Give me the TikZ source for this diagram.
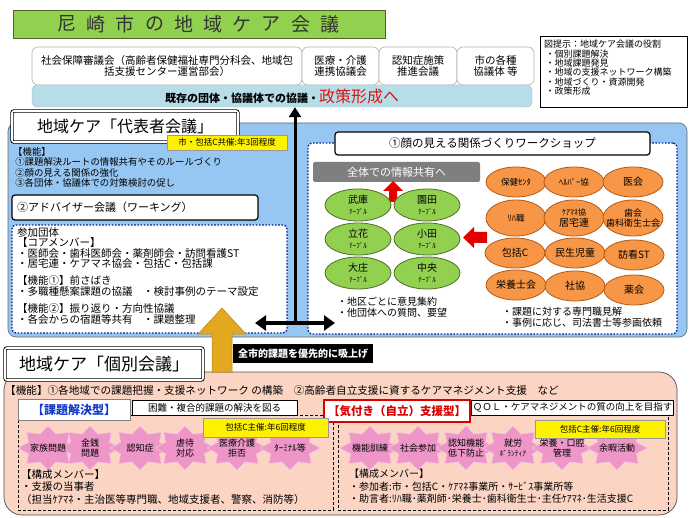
\documentclass[tikz,border=0pt]{standalone}
\usepackage{fontspec}
\setmainfont{Noto Sans CJK JP}
\usetikzlibrary{shapes.geometric, arrows.meta}
\definecolor{titlegreen}{RGB}{146,208,80}
\definecolor{titleline}{RGB}{79,98,40}
\definecolor{barblue}{RGB}{183,222,232}
\definecolor{panelblue}{RGB}{150,198,242}
\definecolor{navydot}{RGB}{0,32,160}
\definecolor{limegreen}{RGB}{146,208,80}
\definecolor{greenline}{RGB}{80,110,40}
\definecolor{orangefill}{RGB}{247,150,70}
\definecolor{orangeline}{RGB}{180,90,20}
\definecolor{pinkpanel}{RGB}{251,212,196}
\definecolor{starpink}{RGB}{238,150,200}
\definecolor{arrowgold}{RGB}{228,168,30}
\definecolor{policyred}{RGB}{220,20,20}
\definecolor{typeblue}{RGB}{20,60,200}
\definecolor{shadegray}{RGB}{127,127,127}
\tikzset{
	every node/.style={inner sep=1pt,font=\fontsize{10}{11}\selectfont},
	title-char/.style={text=black!80,font=\fontsize{19}{19}\selectfont},
	top-box/.style={shape=rectangle,rounded corners=6pt,draw=gray!60,fill=white,line width=0.6pt,align=center,font=\fontsize{10.5}{11.5}\selectfont},
	title-box/.style={shape=rectangle,rounded corners=2pt,draw=black,line width=0.9pt,double=white,double distance=1.6pt,fill=white},
	plain-box/.style={shape=rectangle,draw=black,line width=0.6pt,fill=white},
	yellow-tag/.style={shape=rectangle,draw=gray!80,fill=yellow,line width=0.5pt,font=\fontsize{8.5}{9}\selectfont},
	dot-box/.style={shape=rectangle,rounded corners=4pt,draw=navydot,dash pattern=on 1.6pt off 1.6pt,line width=1.4pt,fill=white},
	dash-box/.style={shape=rectangle,draw=black,dash pattern=on 3pt off 2pt,line width=0.8pt},
	green-node/.style={shape=ellipse,draw=greenline,fill=limegreen,line width=0.8pt,minimum width=66pt,minimum height=32pt,inner sep=0pt,align=center},
	orange-node/.style={shape=ellipse,draw=orangeline,fill=orangefill,line width=0.8pt,minimum width=60pt,minimum height=30pt,inner sep=0pt},
	cell-text/.style={align=center,inner sep=0pt},
	burst-fill/.style={fill=starpink,draw=starpink!60!white,line width=0.6pt},
	star-text/.style={align=center,inner sep=0pt,font=\fontsize{9}{10}\selectfont},
	list-text/.style={anchor=north west,align=left},
}
\tikzstyle{arrow} = [line width=3pt,-{Triangle[width=12pt,length=10pt]}]
\tikzstyle{both-arrow} = [line width=3.5pt,{Triangle[width=15pt,length=11pt]}-{Triangle[width=15pt,length=11pt]}]
\begin{document}
\begin{tikzpicture}[x=1pt,y=-1pt]
	\useasboundingbox (0,0) rectangle (690,518);

	\node[shape=rectangle,draw=titleline,fill=titlegreen,line width=0.8pt,minimum width=372pt,minimum height=28pt] (title) at (199,24) {};
	\foreach \ch [count=\i from 0] in {尼,崎,市,の,地,域,ケ,ア,会,議}
		\node[title-char] (t\i) at (67+29.2*\i,24) {\ch};

	\node[top-box,minimum width=270pt,minimum height=38pt] (shakai) at (167,66) {社会保障審議会（高齢者保健福祉専門分科会、地域包\\括支援センター運営部会）};
	\node[top-box,minimum width=77pt,minimum height=38pt] (iryo) at (340.5,66) {医療・介護\\連携協議会};
	\node[top-box,minimum width=78pt,minimum height=38pt] (ninchi) at (418,66) {認知症施策\\推進会議};
	\node[top-box,minimum width=77pt,minimum height=38pt] (kakushu) at (495.5,66) {市の各種\\協議体 等};
	\node[shape=rectangle,rounded corners=5pt,draw=gray!60,fill=barblue,minimum width=500pt,minimum height=22pt] (kizon) at (282,96) {{\fontsize{11}{12}\selectfont\bfseries 既存の団体・協議体での協議・}{\color{policyred}\fontsize{16}{16}\selectfont 政策形成へ}};

	\node[plain-box,minimum width=147pt,minimum height=71pt] (role-box) at (613.5,71.5) {};
	\node[list-text,font=\fontsize{9}{7.8}\selectfont] (role-text) at (543,39) {図提示：地域ケア会議の役割\\\,・個別課題解決\\\,・地域課題発見\\\,・地域の支援ネットワーク構築\\\,・地域づくり・資源開発\\\,・政策形成};

	\node[shape=rectangle,rounded corners=8pt,draw=black!60,fill=panelblue,line width=0.6pt,minimum width=679pt,minimum height=214pt] (daihyo-panel) at (347.5,230) {};
	\node[title-box,minimum width=226pt,minimum height=31pt,font=\fontsize{16}{16}\selectfont] (daihyo) at (125,126.5) {地域ケア「代表者会議」};
	\node[yellow-tag,minimum width=120pt,minimum height=15pt] (tag-kyosai) at (227,142.5) {市・包括C共催:年3回程度};
	\node[list-text,font=\fontsize{9.4}{10.2}\selectfont] (kinou) at (12,146.5) {【機能】\\\ ①課題解決ルートの情報共有やそのルールづくり\\\ ②顔の見える関係の強化\\\ ③各団体・協議体での対策検討の促し};

	\node[shape=rectangle,rounded corners=3pt,draw=black,fill=white,line width=1.2pt,minimum width=246pt,minimum height=25pt,text width=236pt,align=left,font=\fontsize{11}{12}\selectfont] (adviser) at (135,207.5) {②アドバイザー会議（ワーキング）};
	\node[dot-box,minimum width=275pt,minimum height=108pt] (adv-body) at (149.5,279) {};
	\node[list-text,font=\fontsize{10.5}{10.6}\selectfont] (sanka) at (16,226) {参加団体\\【コアメンバー】\\・医師会・歯科医師会・薬剤師会・訪問看護ST\\・居宅連・ケアマネ協会・包括C・包括課\\[6.5pt]【機能①】前さばき\\・多職種懸案課題の協議　・検討事例のテーマ設定\\[6.5pt]【機能②】振り返り・方向性協議\\・各会からの宿題等共有　・課題整理};

	\node[dot-box,minimum width=369pt,minimum height=191pt] (ws-body) at (492.5,238.5) {};
	\node[shape=rectangle,rounded corners=3pt,draw=black,fill=white,line width=1.2pt,minimum width=315pt,minimum height=23pt,font=\fontsize{11.5}{12}\selectfont] (ws-title) at (492.5,143.5) {①顔の見える関係づくりワークショップ};
	\node[shape=rectangle,rounded corners=2pt,fill=shadegray,text=white,minimum width=167pt,minimum height=20pt,font=\fontsize{11}{12}\selectfont] (share) at (396.5,172) {全体での情報共有へ};
	\fill[red!90!black] (389,202) -- (397,202) -- (397,191) -- (403,191) -- (393,181) -- (383,191) -- (389,191) -- cycle;
	\fill[red!90!black] (487,232) -- (474,232) -- (474,227) -- (463,237.5) -- (474,248) -- (474,243) -- (487,243) -- cycle;

	\node[green-node] (g-muko) at (358,205) {武庫\\{\fontsize{7}{8}\selectfont ﾃｰﾌﾞﾙ}};
	\node[green-node] (g-sonoda) at (427,205) {園田\\{\fontsize{7}{8}\selectfont ﾃｰﾌﾞﾙ}};
	\node[green-node] (g-tachibana) at (358,239) {立花\\{\fontsize{7}{8}\selectfont ﾃｰﾌﾞﾙ}};
	\node[green-node] (g-oda) at (427,239) {小田\\{\fontsize{7}{8}\selectfont ﾃｰﾌﾞﾙ}};
	\node[green-node] (g-daisho) at (358,273) {大庄\\{\fontsize{7}{8}\selectfont ﾃｰﾌﾞﾙ}};
	\node[green-node] (g-chuo) at (427,273) {中央\\{\fontsize{7}{8}\selectfont ﾃｰﾌﾞﾙ}};

	\node[orange-node,label={[cell-text,font=\fontsize{8.5}{9}\selectfont]center:保健ｾﾝﾀ}] (o-hoken) at (516,182) {};
	\node[orange-node,label={[cell-text,font=\fontsize{8.5}{9}\selectfont]center:ﾍﾙﾊﾟｰ協}] (o-helper) at (574,182) {};
	\node[orange-node,label={[cell-text]center:医会}] (o-ikai) at (633,182) {};
	\node[orange-node,minimum height=36pt,label={[cell-text,font=\fontsize{8.5}{9}\selectfont]center:ﾘﾊ職}] (o-riha) at (516,218) {};
	\node[orange-node,minimum height=36pt,label={[cell-text]center:{{\fontsize{8}{9}\selectfont ｹｱﾏﾈ協}\\居宅連}}] (o-caremane) at (574,218) {};
	\node[orange-node,minimum height=36pt,label={[cell-text,font=\fontsize{9}{10.5}\selectfont]center:{歯会\\歯科衛生士会}}] (o-shikai) at (633,218) {};
	\node[orange-node,label={[cell-text]center:包括C}] (o-hokatsu) at (515,253) {};
	\node[orange-node,label={[cell-text]center:民生児童}] (o-minsei) at (575,253) {};
	\node[orange-node,label={[cell-text]center:訪看ST}] (o-houkan) at (634,255) {};
	\node[orange-node,label={[cell-text]center:栄養士会}] (o-eiyo) at (516,285) {};
	\node[orange-node,label={[cell-text]center:社協}] (o-shakyo) at (575,286) {};
	\node[orange-node,label={[cell-text]center:薬会}] (o-yakkai) at (634,290) {};

	\node[list-text] (ws-left-note) at (336,296) {・地区ごとに意見集約\\・他団体への質問、要望};
	\node[list-text] (ws-right-note) at (501,306) {・課題に対する専門職見解\\・事例に応じ、司法書士等参画依頼};

	\coordinate (hub) at (295,323);
	\coordinate (hl) at (255,323);
	\coordinate (hr) at (335,323);
	\draw[arrow] (hub) -- (hub |- kizon.south);
	\draw[both-arrow] (hl) -- (hr);

	\node[shape=rectangle,rounded corners=18pt,draw=black!70,fill=pinkpanel,line width=0.7pt,minimum width=673pt,minimum height=143pt] (kobetsu-panel) at (340.5,443.5) {};
	\node[title-box,minimum width=198pt,minimum height=32pt,font=\fontsize{17}{17}\selectfont] (kobetsu) at (104,364) {地域ケア「個別会議」};
	\filldraw[fill=arrowgold,draw=arrowgold!80!black,line width=0.5pt] (212,372) -- (232,372) -- (232,334) -- (246,334) -- (222,308) -- (198,334) -- (212,334) -- cycle;
	\node[shape=rectangle,fill=black,text=white,minimum width=140pt,minimum height=19pt,font=\fontsize{10}{11}\selectfont\bfseries] (suiage) at (303,353.5) {全市的課題を優先的に吸上げ};

	\node[anchor=west,font=\fontsize{10.6}{11}\selectfont] (kinou-kobetsu) at (4,390) {【機能】①各地域での課題把握・支援ネットワーク の構築　②高齢者自立支援に資するケアマネジメント支援　など};

	\node[dash-box,minimum width=315pt,minimum height=95pt] (kadai-body) at (175.5,462.5) {};
	\node[dash-box,minimum width=330pt,minimum height=95pt] (kizuki-body) at (503,462.5) {};
	\node[shape=rectangle,draw=black!50,fill=white,line width=0.5pt,minimum width=112pt,minimum height=21pt,text=typeblue,font=\fontsize{12}{13}\selectfont\bfseries] (kadai) at (74,409.5) {【課題解決型】};
	\node[plain-box,minimum width=165pt,minimum height=15pt,font=\fontsize{9.5}{10}\selectfont] (konnan) at (214.5,407.5) {困難・複合的課題の解決を図る};
	\node[shape=rectangle,draw=red!85!black,fill=white,line width=1.8pt,minimum width=146pt,minimum height=22pt,text=red!85!black,font=\fontsize{11.5}{12}\selectfont\bfseries] (kizuki) at (397,411) {【気付き（自立）支援型】};
	\node[plain-box,minimum width=201pt,minimum height=15pt,font=\fontsize{9.5}{10}\selectfont] (qol) at (572.5,407.5) {ＱＯＬ・ケアマネジメントの質の向上を目指す};

	\foreach \nm/\x in {kazoku/48,kinsen/90,ninchi/140,gyakutai/185,kyohi/237,terminal/290,kinou/370,sanka/418,teika/466,shuro/513,koku/562,yoka/617}
		\coordinate (s-\nm) at (\x,448);
	\foreach \nm in {kazoku,kinsen,ninchi,gyakutai,kyohi,terminal,kinou,sanka,teika,shuro,koku,yoka}
		\filldraw[burst-fill,shift={(s-\nm)}] plot[samples=17,domain=0:16,variable=\k] ({(25.5+4.5*cos(180*\k))*cos(\k*22.5+90)},{(18.5+3.5*cos(180*\k))*sin(\k*22.5+90)}) -- cycle;
	\node[star-text] (s-kazoku-t) at (s-kazoku) {家族問題};
	\node[star-text] (s-kinsen-t) at (s-kinsen) {金銭\\問題};
	\node[star-text] (s-ninchi-t) at (s-ninchi) {認知症};
	\node[star-text] (s-gyakutai-t) at (s-gyakutai) {虐待\\対応};
	\node[star-text] (s-kyohi-t) at (s-kyohi) {医療介護\\拒否};
	\node[star-text] (s-terminal-t) at (s-terminal) {ﾀｰﾐﾅﾙ等};
	\node[star-text] (s-kinou-t) at (s-kinou) {機能訓練};
	\node[star-text] (s-sanka-t) at (s-sanka) {社会参加};
	\node[star-text] (s-teika-t) at (s-teika) {認知機能\\低下防止};
	\node[star-text] (s-shuro-t) at (s-shuro) {就労\\{\fontsize{7.5}{8}\selectfont ﾎﾞﾗﾝﾃｨｱ}};
	\node[star-text] (s-koku-t) at (s-koku) {栄養・口腔\\管理};
	\node[star-text] (s-yoka-t) at (s-yoka) {余暇活動};

	\node[yellow-tag,minimum width=125pt,minimum height=19pt] (tag-kadai) at (265.5,427.5) {包括C主催:年6回程度};
	\node[yellow-tag,minimum width=130pt,minimum height=18pt] (tag-kizuki) at (600,429) {包括C主催:年6回程度};

	\node[list-text,font=\fontsize{10.5}{12.5}\selectfont] (kadai-member) at (20,468) {【構成メンバー】\\・支援の当事者\\（担当ｹｱﾏﾈ・主治医等専門職、地域支援者、警察、消防等）};
	\node[list-text,font=\fontsize{10}{12.5}\selectfont] (kizuki-member) at (348,468) {【構成メンバー】\\・参加者:市・包括C・ｹｱﾏﾈ事業所・ｻｰﾋﾞｽ事業所等\\・助言者:ﾘﾊ職･薬剤師･栄養士･歯科衛生士･主任ｹｱﾏﾈ･生活支援C};
\end{tikzpicture}
\end{document}
